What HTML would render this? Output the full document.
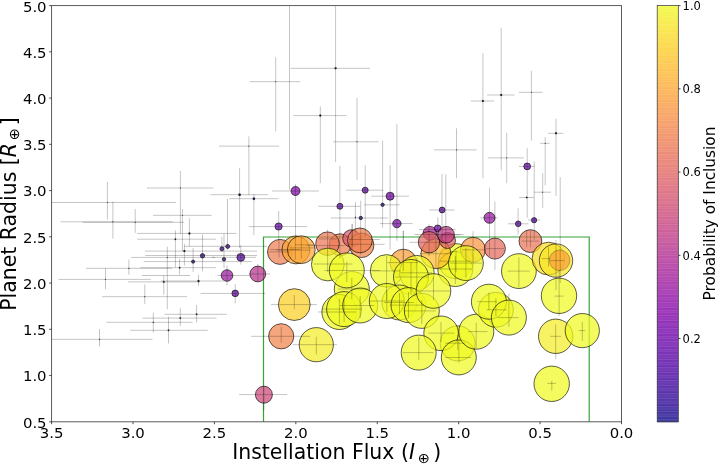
<!DOCTYPE html>
<html><head><meta charset="utf-8"><title>Planet Radius vs Instellation Flux</title>
<style>html,body{margin:0;padding:0;background:#fff}svg{display:block}text{font-family:"DejaVu Sans","Liberation Sans",sans-serif;fill:#000}.i{font-style:oblique}</style></head><body>
<svg width="718" height="468" viewBox="0 0 718 468">
<rect width="718" height="468" fill="#fff"/>
<g id="all" opacity="0.9999">
<defs>
<clipPath id="ax"><rect x="51.6" y="5.6" width="569.9" height="416.2"/></clipPath>
<linearGradient id="cb" x1="0" y1="0" x2="0" y2="1"><stop offset="0.0000" stop-color="#f0f921"/><stop offset="0.0312" stop-color="#f4ed27"/><stop offset="0.0625" stop-color="#f8df25"/><stop offset="0.0938" stop-color="#fcd225"/><stop offset="0.1250" stop-color="#fdc527"/><stop offset="0.1562" stop-color="#feb82c"/><stop offset="0.1875" stop-color="#fdac33"/><stop offset="0.2188" stop-color="#fba139"/><stop offset="0.2500" stop-color="#f89540"/><stop offset="0.2812" stop-color="#f58b47"/><stop offset="0.3125" stop-color="#f0804e"/><stop offset="0.3438" stop-color="#eb7655"/><stop offset="0.3750" stop-color="#e66c5c"/><stop offset="0.4062" stop-color="#e06363"/><stop offset="0.4375" stop-color="#da5a6a"/><stop offset="0.4688" stop-color="#d35171"/><stop offset="0.5000" stop-color="#cc4778"/><stop offset="0.5312" stop-color="#c43e7f"/><stop offset="0.5625" stop-color="#bc3587"/><stop offset="0.5938" stop-color="#b32c8e"/><stop offset="0.6250" stop-color="#aa2395"/><stop offset="0.6562" stop-color="#a01a9c"/><stop offset="0.6875" stop-color="#9511a1"/><stop offset="0.7188" stop-color="#8a09a5"/><stop offset="0.7500" stop-color="#7e03a8"/><stop offset="0.7812" stop-color="#7201a8"/><stop offset="0.8125" stop-color="#6600a7"/><stop offset="0.8438" stop-color="#5901a5"/><stop offset="0.8750" stop-color="#4c02a1"/><stop offset="0.9062" stop-color="#3f049c"/><stop offset="0.9375" stop-color="#310597"/><stop offset="0.9688" stop-color="#220690"/><stop offset="1.0000" stop-color="#0d0887"/></linearGradient>
</defs>
<g clip-path="url(#ax)">
<path d="M263.5 426.8 V237 H589.2 V426.8" fill="none" stroke="#1f991f" stroke-width="1.2" stroke-opacity="0.9"/>
<g stroke="#000" stroke-width="0.85" stroke-opacity="0.75" fill-opacity="0.72">
<circle cx="295.5" cy="191.0" r="4.5" fill="#8004a8"/>
<circle cx="339.9" cy="206.3" r="3.0" fill="#5e01a6"/>
<circle cx="365.2" cy="190.2" r="3.0" fill="#5e01a6"/>
<circle cx="278.6" cy="226.5" r="3.6" fill="#6c00a8"/>
<circle cx="360.8" cy="218.0" r="1.7" fill="#38049a"/>
<circle cx="382.6" cy="204.8" r="1.7" fill="#38049a"/>
<circle cx="390.1" cy="196.2" r="4.0" fill="#7501a8"/>
<circle cx="396.9" cy="223.6" r="4.2" fill="#7a02a8"/>
<circle cx="527.2" cy="166.4" r="3.4" fill="#6700a8"/>
<circle cx="442.1" cy="210.0" r="2.9" fill="#5c01a6"/>
<circle cx="489.5" cy="217.8" r="5.5" fill="#9511a1"/>
<circle cx="518.2" cy="223.8" r="2.8" fill="#5901a5"/>
<circle cx="534.1" cy="220.2" r="2.6" fill="#5502a4"/>
<circle cx="221.9" cy="248.8" r="2.0" fill="#41049d"/>
<circle cx="227.7" cy="246.4" r="2.0" fill="#41049d"/>
<circle cx="202.5" cy="255.8" r="2.2" fill="#41049d"/>
<circle cx="193.1" cy="261.6" r="1.6" fill="#330597"/>
<circle cx="224.0" cy="259.3" r="1.7" fill="#330597"/>
<circle cx="240.8" cy="257.3" r="3.9" fill="#5601a4"/>
<circle cx="235.2" cy="293.4" r="3.3" fill="#6300a7"/>
<circle cx="227.0" cy="275.5" r="5.8" fill="#9a169f"/>
<circle cx="257.8" cy="274.0" r="7.9" fill="#b6308b"/>
<circle cx="263.9" cy="394.7" r="8.5" fill="#cc4778"/>
<circle cx="280.0" cy="251.9" r="12.5" fill="#ef7e50"/>
<circle cx="295.9" cy="249.9" r="14.0" fill="#fca636"/>
<circle cx="301.3" cy="249.7" r="13.9" fill="#fca636"/>
<circle cx="340.2" cy="244.8" r="11.0" fill="#ef7e50"/>
<circle cx="327.5" cy="243.7" r="11.8" fill="#eb7655"/>
<circle cx="351.4" cy="238.4" r="8.7" fill="#d6556d"/>
<circle cx="361.6" cy="245.3" r="12.3" fill="#f2844b"/>
<circle cx="359.9" cy="240.4" r="12.4" fill="#ef7e50"/>
<circle cx="403.3" cy="262.6" r="13.4" fill="#fb9f3a"/>
<circle cx="456.0" cy="261.2" r="17.5" fill="#f0f921"/>
<circle cx="455.3" cy="269.0" r="17.5" fill="#f0f921"/>
<circle cx="435.9" cy="253.7" r="15.0" fill="#feba2c"/>
<circle cx="447.5" cy="240.5" r="8.0" fill="#e16462"/>
<circle cx="429.9" cy="233.3" r="6.9" fill="#ab2494"/>
<circle cx="437.7" cy="228.4" r="3.4" fill="#7201a8"/>
<circle cx="429.0" cy="242.2" r="10.7" fill="#e16462"/>
<circle cx="446.0" cy="234.8" r="8.4" fill="#bf3984"/>
<circle cx="473.0" cy="249.8" r="12.5" fill="#f89540"/>
<circle cx="494.9" cy="248.6" r="10.5" fill="#e56a5d"/>
<circle cx="530.4" cy="241.1" r="11.4" fill="#ea7457"/>
<circle cx="327.8" cy="264.5" r="16.4" fill="#f0f921"/>
<circle cx="351.8" cy="289.0" r="17.5" fill="#f0f921"/>
<circle cx="346.8" cy="270.4" r="17.5" fill="#f0f921"/>
<circle cx="339.4" cy="312.0" r="17.5" fill="#f0f921"/>
<circle cx="344.1" cy="309.1" r="17.5" fill="#f0f921"/>
<circle cx="360.2" cy="305.5" r="17.5" fill="#f0f921"/>
<circle cx="386.6" cy="270.9" r="16.3" fill="#f0f921"/>
<circle cx="416.8" cy="272.8" r="17.3" fill="#f0f921"/>
<circle cx="411.0" cy="277.0" r="17.5" fill="#f0f921"/>
<circle cx="399.5" cy="302.5" r="17.5" fill="#f0f921"/>
<circle cx="386.8" cy="301.0" r="17.5" fill="#f0f921"/>
<circle cx="408.5" cy="305.1" r="17.5" fill="#f0f921"/>
<circle cx="421.8" cy="310.9" r="17.5" fill="#f0f921"/>
<circle cx="433.5" cy="291.0" r="17.3" fill="#f0f921"/>
<circle cx="457.7" cy="343.4" r="17.5" fill="#f0f921"/>
<circle cx="441.1" cy="333.3" r="17.3" fill="#f0f921"/>
<circle cx="418.7" cy="352.6" r="17.5" fill="#f0f921"/>
<circle cx="458.8" cy="357.4" r="17.5" fill="#f0f921"/>
<circle cx="476.3" cy="331.7" r="17.5" fill="#f0f921"/>
<circle cx="465.9" cy="263.1" r="17.4" fill="#f0f921"/>
<circle cx="495.9" cy="309.8" r="17.4" fill="#f0f921"/>
<circle cx="488.9" cy="301.7" r="17.5" fill="#f0f921"/>
<circle cx="508.9" cy="317.6" r="17.5" fill="#f0f921"/>
<circle cx="518.9" cy="271.1" r="17.4" fill="#f0f921"/>
<circle cx="548.5" cy="258.6" r="16.4" fill="#f9dc24"/>
<circle cx="556.0" cy="260.6" r="16.7" fill="#f7e425"/>
<circle cx="559.6" cy="260.3" r="10.3" fill="#fb9f3a" stroke-opacity="0.3"/>
<circle cx="559.0" cy="295.8" r="17.7" fill="#f0f921"/>
<circle cx="555.7" cy="336.3" r="17.2" fill="#f4ed27"/>
<circle cx="582.3" cy="330.6" r="17.1" fill="#f0f921"/>
<circle cx="551.7" cy="383.8" r="17.7" fill="#f0f921"/>
<circle cx="294.3" cy="304.6" r="15.9" fill="#fcce25"/>
<circle cx="281.2" cy="336.3" r="12.6" fill="#f2844b"/>
<circle cx="316.3" cy="344.7" r="17.1" fill="#f4ed27"/>
<circle cx="335.6" cy="68.3" r="1.00" fill="#160b4a" fill-opacity="0.9" stroke-width="0.3"/>
<circle cx="275.7" cy="81.7" r="0.38" fill="#160b4a" fill-opacity="0.9" stroke-width="0.3"/>
<circle cx="320.3" cy="115.6" r="1.00" fill="#160b4a" fill-opacity="0.9" stroke-width="0.3"/>
<circle cx="357.0" cy="141.8" r="0.38" fill="#160b4a" fill-opacity="0.9" stroke-width="0.3"/>
<circle cx="482.9" cy="101.0" r="1.00" fill="#160b4a" fill-opacity="0.9" stroke-width="0.3"/>
<circle cx="501.2" cy="95.0" r="1.00" fill="#160b4a" fill-opacity="0.9" stroke-width="0.3"/>
<circle cx="531.4" cy="92.3" r="0.38" fill="#160b4a" fill-opacity="0.9" stroke-width="0.3"/>
<circle cx="107.4" cy="202.5" r="0.38" fill="#160b4a" fill-opacity="0.9" stroke-width="0.3"/>
<circle cx="112.9" cy="221.8" r="0.38" fill="#160b4a" fill-opacity="0.9" stroke-width="0.3"/>
<circle cx="135.2" cy="222.3" r="0.38" fill="#160b4a" fill-opacity="0.9" stroke-width="0.3"/>
<circle cx="180.4" cy="188.0" r="0.38" fill="#160b4a" fill-opacity="0.9" stroke-width="0.3"/>
<circle cx="182.4" cy="215.3" r="0.38" fill="#160b4a" fill-opacity="0.9" stroke-width="0.3"/>
<circle cx="248.9" cy="146.1" r="0.38" fill="#160b4a" fill-opacity="0.9" stroke-width="0.3"/>
<circle cx="239.6" cy="194.7" r="1.20" fill="#160b4a" fill-opacity="0.9" stroke-width="0.3"/>
<circle cx="253.9" cy="198.7" r="1.20" fill="#160b4a" fill-opacity="0.9" stroke-width="0.3"/>
<circle cx="355.4" cy="217.3" r="0.54" fill="#160b4a" fill-opacity="0.9" stroke-width="0.3"/>
<circle cx="456.5" cy="149.9" r="0.38" fill="#160b4a" fill-opacity="0.9" stroke-width="0.3"/>
<circle cx="506.7" cy="157.9" r="0.38" fill="#160b4a" fill-opacity="0.9" stroke-width="0.3"/>
<circle cx="526.7" cy="197.5" r="0.80" fill="#160b4a" fill-opacity="0.9" stroke-width="0.3"/>
<circle cx="556.0" cy="133.3" r="1.00" fill="#160b4a" fill-opacity="0.9" stroke-width="0.3"/>
<circle cx="545.2" cy="143.3" r="0.38" fill="#160b4a" fill-opacity="0.9" stroke-width="0.3"/>
<circle cx="542.7" cy="192.2" r="0.38" fill="#160b4a" fill-opacity="0.9" stroke-width="0.3"/>
<circle cx="189.4" cy="233.4" r="1.00" fill="#160b4a" fill-opacity="0.9" stroke-width="0.3"/>
<circle cx="175.4" cy="239.2" r="0.80" fill="#160b4a" fill-opacity="0.9" stroke-width="0.3"/>
<circle cx="184.4" cy="251.1" r="1.00" fill="#160b4a" fill-opacity="0.9" stroke-width="0.3"/>
<circle cx="167.3" cy="257.4" r="0.45" fill="#160b4a" fill-opacity="0.9" stroke-width="0.3"/>
<circle cx="179.6" cy="267.7" r="0.80" fill="#160b4a" fill-opacity="0.9" stroke-width="0.3"/>
<circle cx="198.5" cy="281.0" r="1.00" fill="#160b4a" fill-opacity="0.9" stroke-width="0.3"/>
<circle cx="163.8" cy="281.9" r="0.80" fill="#160b4a" fill-opacity="0.9" stroke-width="0.3"/>
<circle cx="128.9" cy="268.3" r="0.45" fill="#160b4a" fill-opacity="0.9" stroke-width="0.3"/>
<circle cx="105.5" cy="279.4" r="0.45" fill="#160b4a" fill-opacity="0.9" stroke-width="0.3"/>
<circle cx="144.8" cy="296.7" r="0.45" fill="#160b4a" fill-opacity="0.9" stroke-width="0.3"/>
<circle cx="153.3" cy="322.3" r="0.54" fill="#160b4a" fill-opacity="0.9" stroke-width="0.3"/>
<circle cx="196.6" cy="314.3" r="0.80" fill="#160b4a" fill-opacity="0.9" stroke-width="0.3"/>
<circle cx="180.3" cy="318.1" r="0.80" fill="#160b4a" fill-opacity="0.9" stroke-width="0.3"/>
<circle cx="168.5" cy="330.3" r="0.80" fill="#160b4a" fill-opacity="0.9" stroke-width="0.3"/>
<circle cx="99.5" cy="339.3" r="0.45" fill="#160b4a" fill-opacity="0.9" stroke-width="0.3"/>
</g>
<path d="M290.7 68.3H370.0M335.6 5.6V162.1M249.6 81.7H300.3M275.7 57.2V131.3M293.3 115.6H346.7M320.3 106.3V183.2M333.1 141.8H378.5M357.0 97.8V180.2M470.8 101.0H494.1M482.9 53.1V178.2M487.1 95.0H514.5M501.2 27.6V170.2M518.9 92.3H542.7M531.4 70.9V140.6M51.6 202.5H175.8M107.4 182.0V219.5M60.5 221.8H172.8M112.9 201.5V238.7M82.6 222.3H184.0M135.2 209.0V232.9M147.0 188.0H213.4M180.4 170.9V233.7M153.0 215.3H211.7M182.4 209.0V251.3M219.0 146.1H279.2M248.9 136.3V195.0M210.4 194.7H268.2M239.6 168.2V248.0M229.3 198.7H278.5M253.9 194.0V235.4M272.0 191.0H318.8M295.5 184.0V236.0M318.3 206.3H360.4M339.9 165.7V258.4M346.2 190.2H383.3M365.2 165.2V236.2M248.9 226.6H307.0M278.7 211.0V239.8M330.9 218.0H387.9M360.7 200.7V235.3M355.4 202.0V232.6M364.2 204.8H399.6M382.6 140.6V227.8M371.2 196.2H408.9M390.1 165.2V249.6M380.0 223.6H412.7M396.9 123.8V240.7M434.0 149.9H476.6M456.5 128.3V178.2M487.7 157.9H523.8M506.7 132.6V183.2M518.8 166.4H534.7M527.2 148.1V217.8M519.2 197.5H533.9M429.2 210.0H454.5M442.0 173.9V246.0M480.4 217.8H497.4M489.5 187.7V256.0M508.0 223.8H528.5M518.1 208.3V234.7M548.0 133.3H563.3M556.0 118.8V196.0M540.2 143.3H549.7M545.2 137.1V185.2M528.2 220.0H540.2M534.2 161.4V239.7M533.9 192.2H551.0M542.7 173.4V207.8M137.2 233.4H236.6M189.4 218.3V246.3M137.2 239.2H216.0M175.4 230.4V267.2M144.8 251.1H257.0M184.4 243.8V265.5M131.1 257.4H215.0M167.3 246.6V309.2M140.3 267.7H216.0M179.6 258.8V274.7M160.9 281.0H223.5M198.5 274.7V285.9M128.2 281.9H200.0M163.8 275.5V294.7M85.9 268.3H172.0M128.9 259.6V274.7M58.4 279.4H150.8M105.5 268.3V289.2M217.7 275.5H250.3M227.0 265.5V285.5M249.4 274.0H270.0M257.8 263.8V281.4M200.6 293.4H265.3M235.2 283.9V303.4M102.1 296.7H187.1M144.8 284.4V304.2M106.3 322.3H192.6M153.3 312.6V332.6M164.5 314.3H226.9M196.6 305.0V322.6M142.4 318.1H216.5M180.3 308.1V326.0M130.2 330.3H207.7M168.5 316.8V343.5M51.6 339.3H152.5M99.5 329.0V346.5M239.2 394.6H287.2M263.8 386.8V410.2M270.9 304.6H316.8M294.3 295.0V309.2M251.1 336.3H310.2M281.2 326.8V342.7M292.6 344.7H336.9M316.3 336.8V354.4M477.5 301.7H496.7M488.9 292.5V310.0M486.7 309.8H506.8M495.9 298.4V316.0M497.6 317.6H518.5M508.9 293.4V326.8M468.0 331.6H487.5M476.2 322.6V348.5M554.4 296.1H563.6M559.1 270.0V316.0M550.2 336.3H561.1M555.7 324.3V359.2M578.6 330.6H585.3M582.3 321.8V341.0M547.3 383.4H556.0M551.8 381.0V390.6M402.6 352.6H433.5M418.8 337.5V360.0M445.2 357.5H471.1M458.9 340.0V362.6M445.2 343.2H465.2M457.7 335.0V350.0M428.5 333.1H454.4M441.0 322.0V342.0M507.5 271.1H529.8M518.9 257.3V287.4M521.7 241.1H539.3M530.4 230.5V247.2M541.8 258.6H550.1M548.5 247.2V266.5M550.1 260.6H564.3M556.0 240.0V290.0M268.4 251.9H290.0M279.0 239.8V257.5M275.9 250.1H310.1M295.3 236.0V259.6M290.0 247.9H315.0M301.3 237.0V258.8M306.7 245.6H344.6M327.6 229.5V272.0M313.4 264.0H352.4M324.5 270.5H380.0M346.8 261.8V282.0M349.0 239.5H380.0M360.7 235.3V255.0M338.0 289.0H368.0M351.8 278.0V299.0M318.0 312.0H356.0M339.4 299.0V324.0M322.0 309.1H362.0M344.1 298.0V322.0M340.0 305.5H374.0M360.2 296.0V318.0M372.0 270.9H401.0M386.6 256.0V300.0M387.0 262.6H418.0M403.3 230.6V271.0M395.0 277.0H428.0M411.0 262.0V294.0M400.0 272.8H432.0M416.8 258.0V288.0M370.0 301.0H404.0M386.8 290.0V312.0M390.0 305.1H424.0M408.5 292.0V318.0M404.0 310.9H436.0M421.8 300.0V324.0M417.0 291.0H450.0M433.5 277.0V300.0M440.0 261.2H470.0M456.0 250.0V272.0M438.0 269.0H472.0M455.3 256.0V284.0M450.0 263.1H482.0M465.9 248.0V278.0M462.0 249.8H486.0M473.0 231.2V262.0M486.0 248.6H504.0M494.9 201.5V270.0M420.0 253.7H452.0M435.9 238.0V268.0M409.5 242.3H447.0M429.0 224.5V256.0M414.5 234.5H463.5M419.0 229.5H455.7M437.9 217.3V240.0M436.0 234.8H460.0M445.8 174.4V250.0M384.0 302.5H414.0M399.5 293.0V314.0M289.5 5.6L289.5 189.7M351.9 224.0L351.9 254.0M145.3 255.5L257.0 255.5M143.6 261.6L252.0 261.6M141.9 275.5L190.0 275.5M184.3 246.3L267.0 246.3M227.5 199.0L227.5 250.0M224.0 233.7L224.0 268.0M221.9 237.0L221.9 252.0M240.8 245.4L240.8 264.6M202.5 234.6L202.5 271.3M193.1 247.9L193.1 271.8M211.8 257.3L256.0 257.3M526.7 230.5L526.7 247.2M560.2 177.2L560.2 283.0M270.0 249.6L300.0 249.6M295.0 244.8L314.0 244.8M318.9 238.9L336.8 238.9M349.0 244.3L384.6 244.3M352.4 224.0L352.4 246.0M403.3 230.6L403.3 262.0" fill="none" stroke="#000" stroke-opacity="0.25" stroke-width="0.95"/>
</g>
<rect x="51.6" y="5.6" width="569.9" height="416.2" fill="none" stroke="#4a4a4a" stroke-width="0.9"/>
<path d="M51.60 421.8v2.4M133.01 421.8v2.4M214.43 421.8v2.4M295.84 421.8v2.4M377.26 421.8v2.4M458.67 421.8v2.4M540.09 421.8v2.4M621.50 421.8v2.4M51.6 421.80h-2.4M51.6 375.56h-2.4M51.6 329.31h-2.4M51.6 283.07h-2.4M51.6 236.82h-2.4M51.6 190.58h-2.4M51.6 144.33h-2.4M51.6 98.09h-2.4M51.6 51.84h-2.4M51.6 5.60h-2.4" stroke="#222" stroke-width="0.8" fill="none"/>
<g font-size="14.9">
<text x="51.60" y="438.1" text-anchor="middle">3.5</text>
<text x="133.01" y="438.1" text-anchor="middle">3.0</text>
<text x="214.43" y="438.1" text-anchor="middle">2.5</text>
<text x="295.84" y="438.1" text-anchor="middle">2.0</text>
<text x="377.26" y="438.1" text-anchor="middle">1.5</text>
<text x="458.67" y="438.1" text-anchor="middle">1.0</text>
<text x="540.09" y="438.1" text-anchor="middle">0.5</text>
<text x="621.50" y="438.1" text-anchor="middle">0.0</text>
<text x="46.6" y="427.70" text-anchor="end">0.5</text>
<text x="46.6" y="381.46" text-anchor="end">1.0</text>
<text x="46.6" y="335.21" text-anchor="end">1.5</text>
<text x="46.6" y="288.97" text-anchor="end">2.0</text>
<text x="46.6" y="242.72" text-anchor="end">2.5</text>
<text x="46.6" y="196.48" text-anchor="end">3.0</text>
<text x="46.6" y="150.23" text-anchor="end">3.5</text>
<text x="46.6" y="103.99" text-anchor="end">4.0</text>
<text x="46.6" y="57.74" text-anchor="end">4.5</text>
<text x="46.6" y="11.50" text-anchor="end">5.0</text>
</g>
<text x="232.2" y="459.3" font-size="20.45">Instellation Flux (<tspan class="i">I</tspan><tspan font-size="14.2" dy="3.2" dx="2.8">⊕</tspan><tspan dy="-3.2" dx="3.7">)</tspan></text>
<text transform="translate(16.0 310.8) rotate(-90)" font-size="20.45">Planet Radius [<tspan class="i">R</tspan><tspan font-size="14.2" dy="3.2" dx="2.8">⊕</tspan><tspan dy="-3.2" dx="3.2">]</tspan></text>
<g fill-opacity="0.72" shape-rendering="geometricPrecision">
<rect x="657.2" y="5.60" width="21.1" height="2.08" fill="#f0f921"/>
<rect x="657.2" y="7.23" width="21.1" height="2.08" fill="#f0f724"/>
<rect x="657.2" y="8.85" width="21.1" height="2.08" fill="#f1f525"/>
<rect x="657.2" y="10.48" width="21.1" height="2.08" fill="#f1f426"/>
<rect x="657.2" y="12.10" width="21.1" height="2.08" fill="#f2f227"/>
<rect x="657.2" y="13.73" width="21.1" height="2.08" fill="#f3f027"/>
<rect x="657.2" y="15.35" width="21.1" height="2.08" fill="#f3ee27"/>
<rect x="657.2" y="16.98" width="21.1" height="2.08" fill="#f4ed27"/>
<rect x="657.2" y="18.61" width="21.1" height="2.08" fill="#f5eb27"/>
<rect x="657.2" y="20.23" width="21.1" height="2.08" fill="#f5e926"/>
<rect x="657.2" y="21.86" width="21.1" height="2.08" fill="#f6e826"/>
<rect x="657.2" y="23.48" width="21.1" height="2.08" fill="#f6e626"/>
<rect x="657.2" y="25.11" width="21.1" height="2.08" fill="#f7e425"/>
<rect x="657.2" y="26.74" width="21.1" height="2.08" fill="#f7e225"/>
<rect x="657.2" y="28.36" width="21.1" height="2.08" fill="#f8e125"/>
<rect x="657.2" y="29.99" width="21.1" height="2.08" fill="#f8df25"/>
<rect x="657.2" y="31.61" width="21.1" height="2.08" fill="#f9dd25"/>
<rect x="657.2" y="33.24" width="21.1" height="2.08" fill="#f9dc24"/>
<rect x="657.2" y="34.86" width="21.1" height="2.08" fill="#fada24"/>
<rect x="657.2" y="36.49" width="21.1" height="2.08" fill="#fad824"/>
<rect x="657.2" y="38.12" width="21.1" height="2.08" fill="#fbd724"/>
<rect x="657.2" y="39.74" width="21.1" height="2.08" fill="#fbd524"/>
<rect x="657.2" y="41.37" width="21.1" height="2.08" fill="#fbd324"/>
<rect x="657.2" y="42.99" width="21.1" height="2.08" fill="#fcd225"/>
<rect x="657.2" y="44.62" width="21.1" height="2.08" fill="#fcd025"/>
<rect x="657.2" y="46.24" width="21.1" height="2.08" fill="#fcce25"/>
<rect x="657.2" y="47.87" width="21.1" height="2.08" fill="#fccd25"/>
<rect x="657.2" y="49.50" width="21.1" height="2.08" fill="#fdcb26"/>
<rect x="657.2" y="51.12" width="21.1" height="2.08" fill="#fdca26"/>
<rect x="657.2" y="52.75" width="21.1" height="2.08" fill="#fdc827"/>
<rect x="657.2" y="54.37" width="21.1" height="2.08" fill="#fdc627"/>
<rect x="657.2" y="56.00" width="21.1" height="2.08" fill="#fdc527"/>
<rect x="657.2" y="57.62" width="21.1" height="2.08" fill="#fdc328"/>
<rect x="657.2" y="59.25" width="21.1" height="2.08" fill="#fdc229"/>
<rect x="657.2" y="60.88" width="21.1" height="2.08" fill="#fec029"/>
<rect x="657.2" y="62.50" width="21.1" height="2.08" fill="#febe2a"/>
<rect x="657.2" y="64.13" width="21.1" height="2.08" fill="#febd2a"/>
<rect x="657.2" y="65.75" width="21.1" height="2.08" fill="#febb2b"/>
<rect x="657.2" y="67.38" width="21.1" height="2.08" fill="#feba2c"/>
<rect x="657.2" y="69.01" width="21.1" height="2.08" fill="#feb82c"/>
<rect x="657.2" y="70.63" width="21.1" height="2.08" fill="#feb72d"/>
<rect x="657.2" y="72.26" width="21.1" height="2.08" fill="#fdb52e"/>
<rect x="657.2" y="73.88" width="21.1" height="2.08" fill="#fdb42f"/>
<rect x="657.2" y="75.51" width="21.1" height="2.08" fill="#fdb22f"/>
<rect x="657.2" y="77.13" width="21.1" height="2.08" fill="#fdb130"/>
<rect x="657.2" y="78.76" width="21.1" height="2.08" fill="#fdaf31"/>
<rect x="657.2" y="80.39" width="21.1" height="2.08" fill="#fdae32"/>
<rect x="657.2" y="82.01" width="21.1" height="2.08" fill="#fdac33"/>
<rect x="657.2" y="83.64" width="21.1" height="2.08" fill="#fdab33"/>
<rect x="657.2" y="85.26" width="21.1" height="2.08" fill="#fca934"/>
<rect x="657.2" y="86.89" width="21.1" height="2.08" fill="#fca835"/>
<rect x="657.2" y="88.51" width="21.1" height="2.08" fill="#fca636"/>
<rect x="657.2" y="90.14" width="21.1" height="2.08" fill="#fca537"/>
<rect x="657.2" y="91.77" width="21.1" height="2.08" fill="#fca338"/>
<rect x="657.2" y="93.39" width="21.1" height="2.08" fill="#fba238"/>
<rect x="657.2" y="95.02" width="21.1" height="2.08" fill="#fba139"/>
<rect x="657.2" y="96.64" width="21.1" height="2.08" fill="#fb9f3a"/>
<rect x="657.2" y="98.27" width="21.1" height="2.08" fill="#fa9e3b"/>
<rect x="657.2" y="99.90" width="21.1" height="2.08" fill="#fa9c3c"/>
<rect x="657.2" y="101.52" width="21.1" height="2.08" fill="#fa9b3d"/>
<rect x="657.2" y="103.15" width="21.1" height="2.08" fill="#f99a3e"/>
<rect x="657.2" y="104.77" width="21.1" height="2.08" fill="#f9983e"/>
<rect x="657.2" y="106.40" width="21.1" height="2.08" fill="#f9973f"/>
<rect x="657.2" y="108.02" width="21.1" height="2.08" fill="#f89540"/>
<rect x="657.2" y="109.65" width="21.1" height="2.08" fill="#f89441"/>
<rect x="657.2" y="111.28" width="21.1" height="2.08" fill="#f79342"/>
<rect x="657.2" y="112.90" width="21.1" height="2.08" fill="#f79143"/>
<rect x="657.2" y="114.53" width="21.1" height="2.08" fill="#f79044"/>
<rect x="657.2" y="116.15" width="21.1" height="2.08" fill="#f68f44"/>
<rect x="657.2" y="117.78" width="21.1" height="2.08" fill="#f68d45"/>
<rect x="657.2" y="119.40" width="21.1" height="2.08" fill="#f58c46"/>
<rect x="657.2" y="121.03" width="21.1" height="2.08" fill="#f58b47"/>
<rect x="657.2" y="122.66" width="21.1" height="2.08" fill="#f48948"/>
<rect x="657.2" y="124.28" width="21.1" height="2.08" fill="#f48849"/>
<rect x="657.2" y="125.91" width="21.1" height="2.08" fill="#f3874a"/>
<rect x="657.2" y="127.53" width="21.1" height="2.08" fill="#f3854b"/>
<rect x="657.2" y="129.16" width="21.1" height="2.08" fill="#f2844b"/>
<rect x="657.2" y="130.79" width="21.1" height="2.08" fill="#f1834c"/>
<rect x="657.2" y="132.41" width="21.1" height="2.08" fill="#f1814d"/>
<rect x="657.2" y="134.04" width="21.1" height="2.08" fill="#f0804e"/>
<rect x="657.2" y="135.66" width="21.1" height="2.08" fill="#f07f4f"/>
<rect x="657.2" y="137.29" width="21.1" height="2.08" fill="#ef7e50"/>
<rect x="657.2" y="138.91" width="21.1" height="2.08" fill="#ef7c51"/>
<rect x="657.2" y="140.54" width="21.1" height="2.08" fill="#ee7b51"/>
<rect x="657.2" y="142.17" width="21.1" height="2.08" fill="#ed7a52"/>
<rect x="657.2" y="143.79" width="21.1" height="2.08" fill="#ed7953"/>
<rect x="657.2" y="145.42" width="21.1" height="2.08" fill="#ec7754"/>
<rect x="657.2" y="147.04" width="21.1" height="2.08" fill="#eb7655"/>
<rect x="657.2" y="148.67" width="21.1" height="2.08" fill="#eb7556"/>
<rect x="657.2" y="150.29" width="21.1" height="2.08" fill="#ea7457"/>
<rect x="657.2" y="151.92" width="21.1" height="2.08" fill="#e97257"/>
<rect x="657.2" y="153.55" width="21.1" height="2.08" fill="#e97158"/>
<rect x="657.2" y="155.17" width="21.1" height="2.08" fill="#e87059"/>
<rect x="657.2" y="156.80" width="21.1" height="2.08" fill="#e76f5a"/>
<rect x="657.2" y="158.42" width="21.1" height="2.08" fill="#e76e5b"/>
<rect x="657.2" y="160.05" width="21.1" height="2.08" fill="#e66c5c"/>
<rect x="657.2" y="161.67" width="21.1" height="2.08" fill="#e56b5d"/>
<rect x="657.2" y="163.30" width="21.1" height="2.08" fill="#e56a5d"/>
<rect x="657.2" y="164.93" width="21.1" height="2.08" fill="#e4695e"/>
<rect x="657.2" y="166.55" width="21.1" height="2.08" fill="#e3685f"/>
<rect x="657.2" y="168.18" width="21.1" height="2.08" fill="#e26660"/>
<rect x="657.2" y="169.80" width="21.1" height="2.08" fill="#e26561"/>
<rect x="657.2" y="171.43" width="21.1" height="2.08" fill="#e16462"/>
<rect x="657.2" y="173.06" width="21.1" height="2.08" fill="#e06363"/>
<rect x="657.2" y="174.68" width="21.1" height="2.08" fill="#df6263"/>
<rect x="657.2" y="176.31" width="21.1" height="2.08" fill="#de6164"/>
<rect x="657.2" y="177.93" width="21.1" height="2.08" fill="#de5f65"/>
<rect x="657.2" y="179.56" width="21.1" height="2.08" fill="#dd5e66"/>
<rect x="657.2" y="181.18" width="21.1" height="2.08" fill="#dc5d67"/>
<rect x="657.2" y="182.81" width="21.1" height="2.08" fill="#db5c68"/>
<rect x="657.2" y="184.44" width="21.1" height="2.08" fill="#da5b69"/>
<rect x="657.2" y="186.06" width="21.1" height="2.08" fill="#da5a6a"/>
<rect x="657.2" y="187.69" width="21.1" height="2.08" fill="#d9586a"/>
<rect x="657.2" y="189.31" width="21.1" height="2.08" fill="#d8576b"/>
<rect x="657.2" y="190.94" width="21.1" height="2.08" fill="#d7566c"/>
<rect x="657.2" y="192.56" width="21.1" height="2.08" fill="#d6556d"/>
<rect x="657.2" y="194.19" width="21.1" height="2.08" fill="#d5546e"/>
<rect x="657.2" y="195.82" width="21.1" height="2.08" fill="#d5536f"/>
<rect x="657.2" y="197.44" width="21.1" height="2.08" fill="#d45270"/>
<rect x="657.2" y="199.07" width="21.1" height="2.08" fill="#d35171"/>
<rect x="657.2" y="200.69" width="21.1" height="2.08" fill="#d24f71"/>
<rect x="657.2" y="202.32" width="21.1" height="2.08" fill="#d14e72"/>
<rect x="657.2" y="203.95" width="21.1" height="2.08" fill="#d04d73"/>
<rect x="657.2" y="205.57" width="21.1" height="2.08" fill="#cf4c74"/>
<rect x="657.2" y="207.20" width="21.1" height="2.08" fill="#ce4b75"/>
<rect x="657.2" y="208.82" width="21.1" height="2.08" fill="#cd4a76"/>
<rect x="657.2" y="210.45" width="21.1" height="2.08" fill="#cc4977"/>
<rect x="657.2" y="212.07" width="21.1" height="2.08" fill="#cc4778"/>
<rect x="657.2" y="213.70" width="21.1" height="2.08" fill="#cb4679"/>
<rect x="657.2" y="215.33" width="21.1" height="2.08" fill="#ca457a"/>
<rect x="657.2" y="216.95" width="21.1" height="2.08" fill="#c9447a"/>
<rect x="657.2" y="218.58" width="21.1" height="2.08" fill="#c8437b"/>
<rect x="657.2" y="220.20" width="21.1" height="2.08" fill="#c7427c"/>
<rect x="657.2" y="221.83" width="21.1" height="2.08" fill="#c6417d"/>
<rect x="657.2" y="223.45" width="21.1" height="2.08" fill="#c5407e"/>
<rect x="657.2" y="225.08" width="21.1" height="2.08" fill="#c43e7f"/>
<rect x="657.2" y="226.71" width="21.1" height="2.08" fill="#c33d80"/>
<rect x="657.2" y="228.33" width="21.1" height="2.08" fill="#c23c81"/>
<rect x="657.2" y="229.96" width="21.1" height="2.08" fill="#c13b82"/>
<rect x="657.2" y="231.58" width="21.1" height="2.08" fill="#c03a83"/>
<rect x="657.2" y="233.21" width="21.1" height="2.08" fill="#bf3984"/>
<rect x="657.2" y="234.84" width="21.1" height="2.08" fill="#be3885"/>
<rect x="657.2" y="236.46" width="21.1" height="2.08" fill="#bd3786"/>
<rect x="657.2" y="238.09" width="21.1" height="2.08" fill="#bc3587"/>
<rect x="657.2" y="239.71" width="21.1" height="2.08" fill="#bb3488"/>
<rect x="657.2" y="241.34" width="21.1" height="2.08" fill="#ba3388"/>
<rect x="657.2" y="242.96" width="21.1" height="2.08" fill="#b83289"/>
<rect x="657.2" y="244.59" width="21.1" height="2.08" fill="#b7318a"/>
<rect x="657.2" y="246.22" width="21.1" height="2.08" fill="#b6308b"/>
<rect x="657.2" y="247.84" width="21.1" height="2.08" fill="#b52f8c"/>
<rect x="657.2" y="249.47" width="21.1" height="2.08" fill="#b42e8d"/>
<rect x="657.2" y="251.09" width="21.1" height="2.08" fill="#b32c8e"/>
<rect x="657.2" y="252.72" width="21.1" height="2.08" fill="#b22b8f"/>
<rect x="657.2" y="254.34" width="21.1" height="2.08" fill="#b12a90"/>
<rect x="657.2" y="255.97" width="21.1" height="2.08" fill="#b02991"/>
<rect x="657.2" y="257.60" width="21.1" height="2.08" fill="#ae2892"/>
<rect x="657.2" y="259.22" width="21.1" height="2.08" fill="#ad2793"/>
<rect x="657.2" y="260.85" width="21.1" height="2.08" fill="#ac2694"/>
<rect x="657.2" y="262.47" width="21.1" height="2.08" fill="#ab2494"/>
<rect x="657.2" y="264.10" width="21.1" height="2.08" fill="#aa2395"/>
<rect x="657.2" y="265.73" width="21.1" height="2.08" fill="#a82296"/>
<rect x="657.2" y="267.35" width="21.1" height="2.08" fill="#a72197"/>
<rect x="657.2" y="268.98" width="21.1" height="2.08" fill="#a62098"/>
<rect x="657.2" y="270.60" width="21.1" height="2.08" fill="#a51f99"/>
<rect x="657.2" y="272.23" width="21.1" height="2.08" fill="#a31e9a"/>
<rect x="657.2" y="273.85" width="21.1" height="2.08" fill="#a21d9a"/>
<rect x="657.2" y="275.48" width="21.1" height="2.08" fill="#a11b9b"/>
<rect x="657.2" y="277.11" width="21.1" height="2.08" fill="#a01a9c"/>
<rect x="657.2" y="278.73" width="21.1" height="2.08" fill="#9e199d"/>
<rect x="657.2" y="280.36" width="21.1" height="2.08" fill="#9d189d"/>
<rect x="657.2" y="281.98" width="21.1" height="2.08" fill="#9c179e"/>
<rect x="657.2" y="283.61" width="21.1" height="2.08" fill="#9a169f"/>
<rect x="657.2" y="285.23" width="21.1" height="2.08" fill="#99159f"/>
<rect x="657.2" y="286.86" width="21.1" height="2.08" fill="#9814a0"/>
<rect x="657.2" y="288.49" width="21.1" height="2.08" fill="#9613a1"/>
<rect x="657.2" y="290.11" width="21.1" height="2.08" fill="#9511a1"/>
<rect x="657.2" y="291.74" width="21.1" height="2.08" fill="#9410a2"/>
<rect x="657.2" y="293.36" width="21.1" height="2.08" fill="#920fa3"/>
<rect x="657.2" y="294.99" width="21.1" height="2.08" fill="#910ea3"/>
<rect x="657.2" y="296.61" width="21.1" height="2.08" fill="#8f0da4"/>
<rect x="657.2" y="298.24" width="21.1" height="2.08" fill="#8e0ca4"/>
<rect x="657.2" y="299.87" width="21.1" height="2.08" fill="#8d0ba5"/>
<rect x="657.2" y="301.49" width="21.1" height="2.08" fill="#8b0aa5"/>
<rect x="657.2" y="303.12" width="21.1" height="2.08" fill="#8a09a5"/>
<rect x="657.2" y="304.74" width="21.1" height="2.08" fill="#8808a6"/>
<rect x="657.2" y="306.37" width="21.1" height="2.08" fill="#8707a6"/>
<rect x="657.2" y="308.00" width="21.1" height="2.08" fill="#8606a6"/>
<rect x="657.2" y="309.62" width="21.1" height="2.08" fill="#8405a7"/>
<rect x="657.2" y="311.25" width="21.1" height="2.08" fill="#8305a7"/>
<rect x="657.2" y="312.87" width="21.1" height="2.08" fill="#8104a7"/>
<rect x="657.2" y="314.50" width="21.1" height="2.08" fill="#8004a8"/>
<rect x="657.2" y="316.12" width="21.1" height="2.08" fill="#7e03a8"/>
<rect x="657.2" y="317.75" width="21.1" height="2.08" fill="#7d03a8"/>
<rect x="657.2" y="319.38" width="21.1" height="2.08" fill="#7b02a8"/>
<rect x="657.2" y="321.00" width="21.1" height="2.08" fill="#7a02a8"/>
<rect x="657.2" y="322.63" width="21.1" height="2.08" fill="#7801a8"/>
<rect x="657.2" y="324.25" width="21.1" height="2.08" fill="#7701a8"/>
<rect x="657.2" y="325.88" width="21.1" height="2.08" fill="#7501a8"/>
<rect x="657.2" y="327.50" width="21.1" height="2.08" fill="#7401a8"/>
<rect x="657.2" y="329.13" width="21.1" height="2.08" fill="#7201a8"/>
<rect x="657.2" y="330.76" width="21.1" height="2.08" fill="#7100a8"/>
<rect x="657.2" y="332.38" width="21.1" height="2.08" fill="#6f00a8"/>
<rect x="657.2" y="334.01" width="21.1" height="2.08" fill="#6e00a8"/>
<rect x="657.2" y="335.63" width="21.1" height="2.08" fill="#6c00a8"/>
<rect x="657.2" y="337.26" width="21.1" height="2.08" fill="#6a00a8"/>
<rect x="657.2" y="338.89" width="21.1" height="2.08" fill="#6900a8"/>
<rect x="657.2" y="340.51" width="21.1" height="2.08" fill="#6700a8"/>
<rect x="657.2" y="342.14" width="21.1" height="2.08" fill="#6600a7"/>
<rect x="657.2" y="343.76" width="21.1" height="2.08" fill="#6400a7"/>
<rect x="657.2" y="345.39" width="21.1" height="2.08" fill="#6300a7"/>
<rect x="657.2" y="347.01" width="21.1" height="2.08" fill="#6100a7"/>
<rect x="657.2" y="348.64" width="21.1" height="2.08" fill="#6001a6"/>
<rect x="657.2" y="350.27" width="21.1" height="2.08" fill="#5e01a6"/>
<rect x="657.2" y="351.89" width="21.1" height="2.08" fill="#5c01a6"/>
<rect x="657.2" y="353.52" width="21.1" height="2.08" fill="#5b01a5"/>
<rect x="657.2" y="355.14" width="21.1" height="2.08" fill="#5901a5"/>
<rect x="657.2" y="356.77" width="21.1" height="2.08" fill="#5801a4"/>
<rect x="657.2" y="358.39" width="21.1" height="2.08" fill="#5601a4"/>
<rect x="657.2" y="360.02" width="21.1" height="2.08" fill="#5502a4"/>
<rect x="657.2" y="361.65" width="21.1" height="2.08" fill="#5302a3"/>
<rect x="657.2" y="363.27" width="21.1" height="2.08" fill="#5102a3"/>
<rect x="657.2" y="364.90" width="21.1" height="2.08" fill="#5002a2"/>
<rect x="657.2" y="366.52" width="21.1" height="2.08" fill="#4e02a2"/>
<rect x="657.2" y="368.15" width="21.1" height="2.08" fill="#4c02a1"/>
<rect x="657.2" y="369.78" width="21.1" height="2.08" fill="#4b03a1"/>
<rect x="657.2" y="371.40" width="21.1" height="2.08" fill="#4903a0"/>
<rect x="657.2" y="373.03" width="21.1" height="2.08" fill="#48039f"/>
<rect x="657.2" y="374.65" width="21.1" height="2.08" fill="#46039f"/>
<rect x="657.2" y="376.28" width="21.1" height="2.08" fill="#44039e"/>
<rect x="657.2" y="377.90" width="21.1" height="2.08" fill="#43039e"/>
<rect x="657.2" y="379.53" width="21.1" height="2.08" fill="#41049d"/>
<rect x="657.2" y="381.16" width="21.1" height="2.08" fill="#3f049c"/>
<rect x="657.2" y="382.78" width="21.1" height="2.08" fill="#3e049c"/>
<rect x="657.2" y="384.41" width="21.1" height="2.08" fill="#3c049b"/>
<rect x="657.2" y="386.03" width="21.1" height="2.08" fill="#3a049a"/>
<rect x="657.2" y="387.66" width="21.1" height="2.08" fill="#38049a"/>
<rect x="657.2" y="389.28" width="21.1" height="2.08" fill="#370499"/>
<rect x="657.2" y="390.91" width="21.1" height="2.08" fill="#350498"/>
<rect x="657.2" y="392.54" width="21.1" height="2.08" fill="#330597"/>
<rect x="657.2" y="394.16" width="21.1" height="2.08" fill="#310597"/>
<rect x="657.2" y="395.79" width="21.1" height="2.08" fill="#2f0596"/>
<rect x="657.2" y="397.41" width="21.1" height="2.08" fill="#2e0595"/>
<rect x="657.2" y="399.04" width="21.1" height="2.08" fill="#2c0594"/>
<rect x="657.2" y="400.66" width="21.1" height="2.08" fill="#2a0593"/>
<rect x="657.2" y="402.29" width="21.1" height="2.08" fill="#280592"/>
<rect x="657.2" y="403.92" width="21.1" height="2.08" fill="#260591"/>
<rect x="657.2" y="405.54" width="21.1" height="2.08" fill="#240691"/>
<rect x="657.2" y="407.17" width="21.1" height="2.08" fill="#220690"/>
<rect x="657.2" y="408.79" width="21.1" height="2.08" fill="#20068f"/>
<rect x="657.2" y="410.42" width="21.1" height="2.08" fill="#1d068e"/>
<rect x="657.2" y="412.05" width="21.1" height="2.08" fill="#1b068d"/>
<rect x="657.2" y="413.67" width="21.1" height="2.08" fill="#19068c"/>
<rect x="657.2" y="415.30" width="21.1" height="2.08" fill="#16078a"/>
<rect x="657.2" y="416.92" width="21.1" height="2.08" fill="#130789"/>
<rect x="657.2" y="418.55" width="21.1" height="2.08" fill="#100788"/>
<rect x="657.2" y="420.17" width="21.1" height="2.08" fill="#0d0887"/>
</g>
<rect x="657.2" y="5.6" width="21.09999999999991" height="416.2" fill="none" stroke="#333" stroke-width="0.7"/>
<g font-size="11.5">
<text x="682.6" y="342.96">0.2</text>
<text x="682.6" y="259.72">0.4</text>
<text x="682.6" y="176.48">0.6</text>
<text x="682.6" y="93.24">0.8</text>
<text x="682.6" y="10.00">1.0</text>
</g>
<path d="M678.3 338.56h2.2M678.3 255.32h2.2M678.3 172.08h2.2M678.3 88.84h2.2M678.3 5.60h2.2" stroke="#222" stroke-width="0.8" fill="none"/>
<text transform="translate(714.9 300.4) rotate(-90)" font-size="15.36">Probability of Inclusion</text>
</g></svg></body></html>
